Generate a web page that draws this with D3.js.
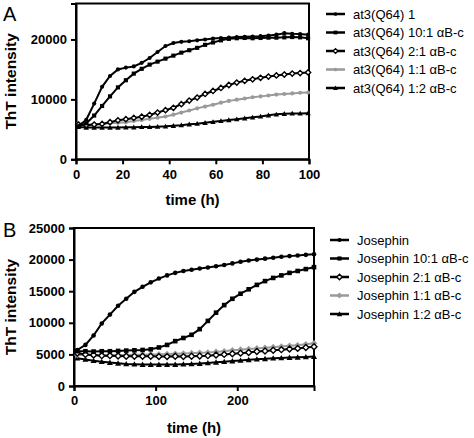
<!DOCTYPE html>
<html><head><meta charset="utf-8">
<script src="https://cdn.jsdelivr.net/npm/d3@7/dist/d3.min.js"></script>
<style>body{margin:0;background:#fff}svg{display:block;font-family:"Liberation Sans",Arial,sans-serif}</style>
</head><body><svg id="c" width="474" height="438"></svg>
<script>
// ---------- Panel A data ----------
const timeA = [1,4.4,7.8,11.2,14.6,18,21.4,24.8,28.2,31.6,35,38.4,41.8,45.2,48.6,52,55.4,58.8,62.2,65.6,69,72.4,75.8,79.2,82.6,86,89.4,92.8,96.2,99.6];
const a_1   = [5500,6600,9300,12100,13900,15000,15300,15500,16100,16900,17900,18900,19400,19600,19700,19850,20000,20150,20250,20300,20400,20450,20500,20550,20650,20800,21050,20950,20900,20800];
const a_10  = [5500,6000,7300,8900,10500,12000,13200,14300,15100,15800,16300,16800,17300,17800,18200,18600,19100,19500,19850,20100,20200,20250,20200,20250,20300,20300,20350,20400,20350,20200];
const a_2   = [5800,5700,5800,5900,6200,6500,6700,6900,7100,7400,7800,8200,8600,9200,9800,10300,10900,11400,11900,12400,12800,13100,13350,13600,13800,14000,14150,14300,14400,14500];
const a_11  = [6000,5800,5800,5900,6000,6100,6200,6400,6550,6750,6950,7150,7450,7800,8150,8500,8800,9100,9450,9750,9950,10150,10350,10500,10650,10800,10900,11000,11100,11150];
const a_12  = [5400,5300,5300,5300,5300,5300,5350,5350,5400,5400,5450,5500,5600,5700,5850,5950,6100,6250,6400,6550,6700,6850,7000,7150,7350,7500,7600,7650,7650,7700];
const namesA = ["at3(Q64) 1","at3(Q64) 10:1 \u03b1B-c","at3(Q64) 2:1 \u03b1B-c","at3(Q64) 1:1 \u03b1B-c","at3(Q64) 1:2 \u03b1B-c"];
const ticksAx = [0,20,40,60,80,100];
const ticksAy = [0,10000,20000];

// ---------- Panel B data ----------
const timeB = [4,14,24,34,44,54,64,74,84,94,104,114,124,134,144,154,164,174,184,194,204,214,224,234,244,254,264,274,284,294];
const b_j   = [5700,6500,8000,9900,11300,12700,13800,14900,15700,16400,17000,17500,17900,18200,18400,18600,18750,18950,19150,19400,19650,19850,20000,20150,20300,20450,20550,20650,20750,20850];
const b_10  = [5500,5500,5450,5500,5500,5550,5600,5650,5700,5800,6100,6500,7100,7600,8100,9000,10300,11600,12800,13800,14600,15300,16000,16600,17100,17500,17900,18200,18500,18800];
const b_2   = [5200,5000,4900,4800,4800,4750,4700,4700,4700,4700,4650,4650,4700,4650,4700,4750,4800,4900,5000,5100,5200,5300,5450,5550,5650,5750,5850,5950,6100,6200];
const b_11  = [4900,4900,4850,4850,4850,4900,4900,4950,4950,5000,5000,5050,5100,5150,5200,5250,5300,5400,5500,5650,5750,5850,5950,6050,6150,6250,6350,6450,6600,6750];
const b_12  = [4400,4200,4000,3850,3700,3600,3500,3450,3400,3400,3400,3400,3400,3450,3500,3550,3650,3750,3850,3950,4050,4150,4250,4300,4400,4450,4500,4550,4600,4650];
const namesB = ["Josephin","Josephin 10:1 \u03b1B-c","Josephin 2:1 \u03b1B-c","Josephin 1:1 \u03b1B-c","Josephin 1:2 \u03b1B-c"];
const ticksBx = [0,100,200];
const ticksBy = [0,5000,10000,15000,20000,25000];

const svg = d3.select("#c");
const GRAY = "#9a9a9a";

function marker(g, type, x, y, color, s) {
  if (type === "circle") {
    g.append("circle").attr("cx",x).attr("cy",y).attr("r",2.3*s).attr("fill",color);
  } else if (type === "square") {
    g.append("rect").attr("x",x-2.3*s).attr("y",y-2.3*s).attr("width",4.6*s).attr("height",4.6*s).attr("fill",color);
  } else if (type === "diamondOpen") {
    const d=3.3*s;
    g.append("path").attr("d",`M${x},${y-d}L${x+d},${y}L${x},${y+d}L${x-d},${y}Z`).attr("fill","#fff").attr("stroke",color).attr("stroke-width",1.4);
  } else if (type === "diamond") {
    const d=3.3*s;
    g.append("path").attr("d",`M${x},${y-d}L${x+d},${y}L${x},${y+d}L${x-d},${y}Z`).attr("fill",color);
  } else if (type === "triangle") {
    const d=3*s;
    g.append("path").attr("d",`M${x},${y-d}L${x+d},${y+d*0.8}L${x-d},${y+d*0.8}Z`).attr("fill",color);
  }
}

function panel(cfg) {
  const x = d3.scaleLinear().domain(cfg.xdom).range([cfg.left, cfg.right]);
  const y = d3.scaleLinear().domain(cfg.ydom).range([cfg.bottom, cfg.top]);
  const g = svg.append("g");
  g.append("rect").attr("x",cfg.left).attr("y",cfg.top).attr("width",cfg.right-cfg.left).attr("height",cfg.bottom-cfg.top)
    .attr("fill","none").attr("stroke","#000").attr("stroke-width",2);
  const ax = g.append("g").attr("transform",`translate(0,${cfg.bottom})`)
    .call(d3.axisBottom(x).tickValues(cfg.xticks).tickSize(5).tickPadding(5).tickFormat(d3.format("d")));
  const ay = g.append("g").attr("transform",`translate(${cfg.left},0)`)
    .call(d3.axisLeft(y).tickValues(cfg.yticks).tickSize(5).tickPadding(4).tickFormat(d3.format("d")));
  [ax,ay].forEach(a=>{
    a.select(".domain").attr("stroke","#000").attr("stroke-width",2);
    a.selectAll(".tick line").attr("stroke","#000").attr("stroke-width",2);
    a.selectAll(".tick text").attr("fill","#000").attr("font-size",13).attr("font-weight","bold")
      .attr("font-family","'Liberation Sans',Arial,sans-serif");
  });
  const line = d3.line().x(d=>x(d[0])).y(d=>y(d[1]));
  cfg.series.slice().reverse().forEach(s=>{
    const pts = cfg.time.map((t,i)=>[t,s.values[i]]);
    g.append("path").attr("d",line(pts)).attr("fill","none").attr("stroke",s.color).attr("stroke-width",2);
    const mg = g.append("g");
    pts.forEach(p=>marker(mg,s.marker,x(p[0]),y(p[1]),s.color,s.ms||1));
  });
  svg.append("text").attr("x",(cfg.left+cfg.right)/2).attr("y",cfg.xtitleY).attr("text-anchor","middle")
    .attr("font-size",15).attr("font-weight","bold").text("time (h)");
  svg.append("text").attr("transform",`translate(${cfg.ytitleX},${(cfg.top+cfg.bottom)/2}) rotate(-90)`)
    .attr("text-anchor","middle").attr("font-size",15.5).attr("font-weight","bold").text("ThT intensity");
  svg.append("text").attr("x",3).attr("y",cfg.letterY).attr("font-size",20).text(cfg.letter);
  cfg.series.forEach((s,i)=>{
    const yy = cfg.legY + i*18.5;
    svg.append("line").attr("x1",cfg.legX).attr("x2",cfg.legX+19).attr("y1",yy).attr("y2",yy)
      .attr("stroke",s.color).attr("stroke-width",2.5);
    marker(svg,s.marker,cfg.legX+9.5,yy,s.color,(s.ms||1)*0.9);
    svg.append("text").attr("x",cfg.legTextX).attr("y",yy+4.5).attr("font-size",13).attr("fill","#000").text(s.name);
  });
}

panel({
  xdom:[0,100], ydom:[0,26000], left:76, right:309, top:3.5, bottom:159.3,
  xticks:ticksAx, yticks:ticksAy, time:timeA, xtitleY:205, ytitleX:16, letter:"A", letterY:21,
  legX:326, legTextX:353, legY:14,
  series:[
    {name:namesA[0], values:a_1, color:"#000", marker:"circle", ms:0.9},
    {name:namesA[1], values:a_10, color:"#000", marker:"square", ms:0.9},
    {name:namesA[2], values:a_2, color:"#000", marker:"diamondOpen", ms:0.8},
    {name:namesA[3], values:a_11, color:GRAY, marker:"circle", ms:0.9},
    {name:namesA[4], values:a_12, color:"#000", marker:"triangle", ms:0.9}
  ]
});

panel({
  xdom:[0,294], ydom:[0,25000], left:74, right:314, top:228, bottom:386,
  xticks:ticksBx, yticks:ticksBy, time:timeB, xtitleY:433, ytitleX:16, letter:"B", letterY:237,
  legX:330, legTextX:357, legY:240,
  series:[
    {name:namesB[0], values:b_j, color:"#000", marker:"circle"},
    {name:namesB[1], values:b_10, color:"#000", marker:"square"},
    {name:namesB[2], values:b_2, color:"#000", marker:"diamondOpen", ms:0.9},
    {name:namesB[3], values:b_11, color:GRAY, marker:"diamond"},
    {name:namesB[4], values:b_12, color:"#000", marker:"triangle"}
  ]
});
</script></body></html>
